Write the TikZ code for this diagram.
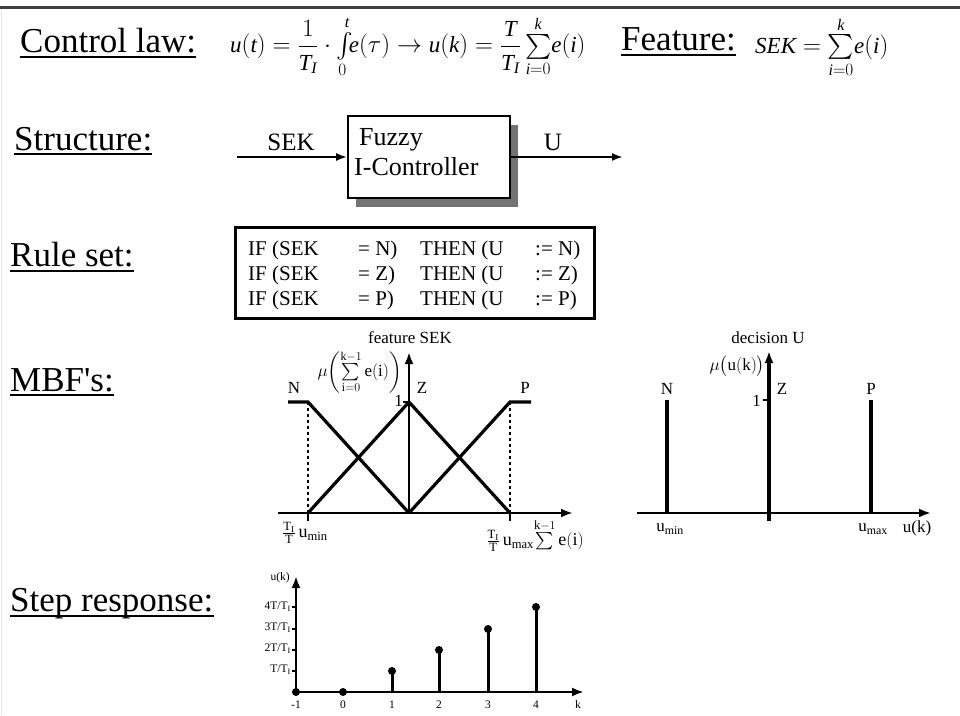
\documentclass[tikz,border=0pt]{standalone}
\usepackage{amsmath}
\usepackage{fontspec}
\setmainfont{Liberation Serif}
\usetikzlibrary{arrows.meta,shadows}
\newcommand\mi[1]{\mathit{#1}}
\begin{document}
\begin{tikzpicture}[x=1pt,y=-1pt,
  heading/.style={font=\fontsize{35}{40}\selectfont, anchor=base west, inner sep=0pt},
  uline/.style={line width=2.6pt},
  lbl/.style={font=\fontsize{17}{20}\selectfont, inner sep=1pt},
  small/.style={font=\fontsize{11.5}{13}\selectfont, inner sep=1pt},
  rule/.style={font=\fontsize{21}{24}\selectfont, anchor=base west, inner sep=0pt},
  mf/.style={line width=3.2pt},
  axis/.style={line width=2.4pt, -{Latex[length=12pt,width=9pt]}},
  flow/.style={line width=2pt, -{Latex[length=11pt,width=8pt]}},
  stem/.style={line width=3pt},
  dot/.style={circle, fill=black, inner sep=0pt, minimum size=8pt},
]
\useasboundingbox (0,0) rectangle (960,715);
\fill[white] (0,0) rectangle (960,715);
% frame
\draw[line width=2.4pt, black!75] (0,7.5) -- (960,7.5);
\draw[line width=1pt, black!10] (1,9) -- (1,715);

% headings
\node[heading] (hcl) at (20,52) {Control law:};
\draw[uline] ([yshift=-5pt]hcl.base west) -- ([yshift=-5pt]hcl.base east);
\node[heading] (hfe) at (621,50) {Feature:};
\draw[uline] ([yshift=-5pt]hfe.base west) -- ([yshift=-5pt]hfe.base east);
\node[heading] (hst) at (14,150) {Structure:};
\draw[uline] ([yshift=-4pt]hst.base west) -- ([yshift=-4pt]hst.base east);
\node[heading] (hrs) at (10,266) {Rule set:};
\draw[uline] ([yshift=-5pt]hrs.base west) -- ([yshift=-5pt]hrs.base east);
\node[heading] (hmb) at (10,391) {MBF\textquotesingle s:};
\draw[uline] ([yshift=-4pt]hmb.base west) -- ([yshift=-4pt]hmb.base east);
\node[heading] (hsr) at (10,611) {Step response:};
\draw[uline] ([yshift=-5pt]hsr.base west) -- ([yshift=-5pt]hsr.base east);

% formulas
\node[anchor=west, inner sep=0pt, font=\fontsize{23}{27}\selectfont] (law) at (230,47)
  {$\displaystyle \mi{u}(\mi{t})=\frac{1}{\mi{T}_{\mi{I}}}\cdot{\textstyle\int\limits_0^{\mi{t}}}\! \mi{e}(\tau)\rightarrow \mi{u}(\mi{k})=\frac{\mi{T}}{\mi{T}_{\mi{I}}}\,{\textstyle\sum\limits_{\mi{i}=0}^{\mi{k}}}\mi{e}(\mi{i})$};
\node[anchor=west, inner sep=0pt, font=\fontsize{23}{27}\selectfont] (feat) at (755,47)
  {$\displaystyle \mi{SEK}={\textstyle\sum\limits_{\mi{i}=0}^{\mi{k}}}\mi{e}(\mi{i})$};

% structure
\node[draw, line width=1.8pt, fill=white, minimum width=162pt, minimum height=82pt,
      drop shadow={shadow xshift=8pt, shadow yshift=-9pt, fill=black!55, opacity=1}]
      (fc) at (429,157) {};
\node[anchor=base west, inner sep=0pt, font=\fontsize{26}{30}\selectfont] (fct1) at (359,145) {Fuzzy};
\node[anchor=base west, inner sep=0pt, font=\fontsize{26}{30}\selectfont] (fct2) at (354,175) {I-Controller};
\coordinate (sin) at (237,157);
\coordinate (sout) at (623,157);
\draw[flow] (sin) -- (fc.west);
\draw[flow] (fc.east) -- (sout);
\node[anchor=base, inner sep=0pt, font=\fontsize{25}{30}\selectfont] (lsek) at (291,150) {SEK};
\node[anchor=base, inner sep=0pt, font=\fontsize{25}{30}\selectfont] (lu) at (553,150) {U};

% rule set
\node[draw, line width=3pt, minimum width=359pt, minimum height=91pt] (rules) at (415,272.5) {};
\node[rule] (r1) at (248,255) {\makebox[110pt][l]{IF (SEK}\makebox[62pt][l]{= N)}\makebox[115pt][l]{THEN (U}:= N)};
\node[rule] (r2) at (248,280) {\makebox[110pt][l]{IF (SEK}\makebox[62pt][l]{= Z)}\makebox[115pt][l]{THEN (U}:= Z)};
\node[rule] (r3) at (248,305) {\makebox[110pt][l]{IF (SEK}\makebox[62pt][l]{= P)}\makebox[115pt][l]{THEN (U}:= P)};

% MBF left
\draw[axis] (278,513) -- (573,513);
\draw[axis] (409,513) -- (409,352);
\draw[line width=1.2pt, dashed] (308,402) -- (308,513);
\draw[line width=1.2pt, dashed] (510,402) -- (510,513);
\draw[line width=1.4pt] (308,513) -- (308,521);
\draw[line width=1.4pt] (510,513) -- (510,521);
\draw[line width=1.4pt] (403,402) -- (409,402);
\draw[mf] (288,402) -- (308,402) -- (409,513);
\draw[mf] (308,513) -- (409,402) -- (510,513);
\draw[mf] (409,513) -- (510,402) -- (531,402);
\node[lbl] (lfs) at (410,338) {feature SEK};
\node[lbl] (lN1) at (294,388) {N};
\node[lbl] (lZ1) at (422,388) {Z};
\node[lbl] (lP1) at (525,388) {P};
\node[lbl, anchor=east] (l11) at (404,401) {1};
\node[inner sep=0pt, font=\fontsize{17}{19}\selectfont, anchor=east] (lmu1) at (402,372)
  {$\mu\!\left(\sum\limits_{\mathrm{i}=0}^{\mathrm{k}-1}\mathrm{e}(\mathrm{i})\right)$};
\node[inner sep=0pt, font=\fontsize{18}{20}\selectfont] (lmin) at (305,533)
  {$\frac{\mathrm{T_I}}{\mathrm{T}}\,\mathrm{u}_{\mathrm{min}}$};
\node[inner sep=0pt, font=\fontsize{18}{20}\selectfont] (lmax) at (535,535)
  {$\frac{\mathrm{T_I}}{\mathrm{T}}\,\mathrm{u}_{\mathrm{max}}\!\sum\limits^{\mathrm{k}-1}\mathrm{e}(\mathrm{i})$};

% MBF right
\draw[axis] (637,513) -- (931,513);
\draw[line width=3.8pt, -{Latex[length=12pt,width=9pt]}] (769,521) -- (769,351);
\draw[line width=1.4pt] (763,400) -- (769,400);
\draw[line width=3.2pt] (667,400) -- (667,513);
\draw[line width=3.2pt] (871,400) -- (871,513);
\node[lbl] (lds) at (768,338) {decision U};
\node[lbl, anchor=east] (lmu2) at (766,366) {$\mu\bigl(\mathrm{u}(\mathrm{k})\bigr)$};
\node[lbl] (lN2) at (667,389) {N};
\node[lbl] (lZ2) at (782,389) {Z};
\node[lbl] (lP2) at (871,389) {P};
\node[lbl, anchor=east] (l12) at (762,401) {1};
\node[lbl] (lumin) at (670,529) {u$_{\mathrm{min}}$};
\node[lbl] (lumax) at (873,529) {u$_{\mathrm{max}}$};
\node[lbl] (luk) at (917,528) {u(k)};

% step response
\draw[axis] (296,692) -- (584,692);
\draw[axis] (296,692) -- (296,576);
\foreach \yy in {607,629,650,671} \draw[line width=1.2pt] (292,\yy) -- (296,\yy);
\draw[stem] (392,692) -- (392,671);
\draw[stem] (439,692) -- (439,650);
\draw[stem] (488,692) -- (488,629);
\draw[stem] (536,692) -- (536,607);
\node[dot] (d0) at (296,692) {};
\node[dot] (d1) at (343,692) {};
\node[dot] (d2) at (392,671) {};
\node[dot] (d3) at (439,650) {};
\node[dot] (d4) at (488,629) {};
\node[dot] (d5) at (536,607) {};
\node[small, anchor=east] (y4) at (292,607) {4T/T$_{\mathrm{I}}$};
\node[small, anchor=east] (y3) at (292,628) {3T/T$_{\mathrm{I}}$};
\node[small, anchor=east] (y2) at (292,649) {2T/T$_{\mathrm{I}}$};
\node[small, anchor=east] (y1) at (292,670) {T/T$_{\mathrm{I}}$};
\node[small, anchor=east] (yu) at (291,578) {u(k)};
\node[small] (xm1) at (296,705) {-1};
\node[small] (x0) at (343,705) {0};
\node[small] (x1) at (392,705) {1};
\node[small] (x2) at (439,705) {2};
\node[small] (x3) at (488,705) {3};
\node[small] (x4) at (536,705) {4};
\node[small] (xk) at (578,704) {k};
\end{tikzpicture}
\end{document}
